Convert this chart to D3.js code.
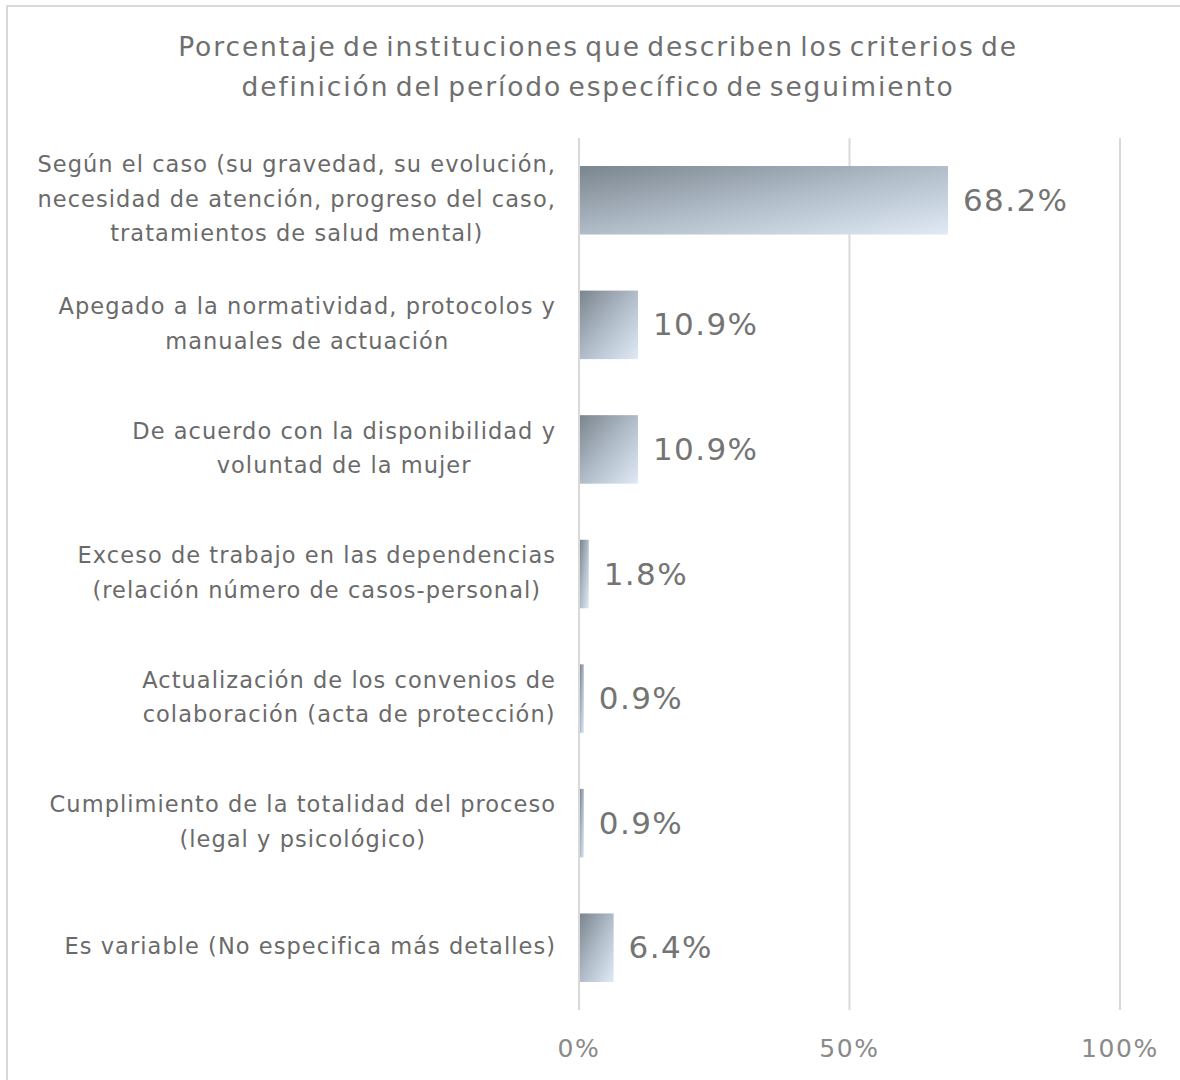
<!DOCTYPE html>
<html>
<head>
<meta charset="utf-8">
<script src="https://cdn.jsdelivr.net/npm/d3@7"></script>
<style>
  body { margin: 0; background: #fff; }
  svg { display: block; }
</style>
</head>
<body>
<svg id="chart"></svg>
<script>
const titleLines = [
  'Porcentaje de instituciones que describen los criterios de',
  'definición del período específico de seguimiento'
];

const categories = [
  ['Según el caso (su gravedad, su evolución,', 'necesidad de atención, progreso del caso,', 'tratamientos de salud mental)'],
  ['Apegado a la normatividad, protocolos y', 'manuales de actuación'],
  ['De acuerdo con la disponibilidad y', 'voluntad de la mujer'],
  ['Exceso de trabajo en las dependencias', '(relación número de casos-personal)'],
  ['Actualización de los convenios de', 'colaboración (acta de protección)'],
  ['Cumplimiento de la totalidad del proceso', '(legal y psicológico)'],
  ['Es variable (No especifica más detalles)']
];

const values = [68.2, 10.9, 10.9, 1.8, 0.9, 0.9, 6.4];

const tickValues = [0, 50, 100];

const width = 1180, height = 1080;
const font = 'DejaVu Sans, sans-serif';

const svg = d3.select('#chart')
              .attr('width', width)
              .attr('height', height);

// frame around the chart (cut off on right and bottom)
svg.append('rect')
    .attr('x', 7)
    .attr('y', 6)
    .attr('width', width + 20)
    .attr('height', height + 20)
    .attr('fill', 'none')
    .attr('stroke', '#d9d9d9')
    .attr('stroke-width', 2);

const grad = svg.append('defs')
                .append('linearGradient')
                .attr('id', 'barGrad')
                .attr('x1', 0).attr('y1', 0)
                .attr('x2', 1).attr('y2', 1);
grad.append('stop').attr('offset', '0%').attr('stop-color', '#7b858f');
grad.append('stop').attr('offset', '50%').attr('stop-color', '#b0bcc8');
grad.append('stop').attr('offset', '100%').attr('stop-color', '#dfeaf6');

const x = d3.scaleLinear()
            .domain([0, 100])
            .range([579, 1120]);

const y = d3.scaleBand()
            .domain(d3.range(categories.length))
            .range([138, 1010])
            .paddingInner(0.45)
            .paddingOuter(0.225);

// title
svg.append('g')
    .selectAll('text')
    .data(titleLines)
    .enter()
    .append('text')
      .attr('x', 598)
      .attr('y', (d, i) => 48 + i * 40)
      .attr('text-anchor', 'middle')
      .attr('dominant-baseline', 'middle')
      .attr('font-family', font)
      .attr('font-size', 26.5)
      .attr('letter-spacing', 1.9)
      .attr('word-spacing', -4)
      .attr('fill', '#6f6f6f')
      .text(d => d);

// gridlines
svg.append('g')
    .selectAll('line')
    .data(tickValues)
    .enter()
    .append('line')
      .attr('x1', d => x(d))
      .attr('x2', d => x(d))
      .attr('y1', 138)
      .attr('y2', 1010)
      .attr('stroke', '#d9d9d9')
      .attr('stroke-width', 2);

// x axis tick labels
svg.append('g')
    .selectAll('text')
    .data(tickValues)
    .enter()
    .append('text')
      .attr('x', d => x(d))
      .attr('y', 1050)
      .attr('text-anchor', 'middle')
      .attr('dominant-baseline', 'middle')
      .attr('font-family', font)
      .attr('font-size', 25)
      .attr('letter-spacing', 1.6)
      .attr('fill', '#8a8a8a')
      .text(d => d + '%');

// bars
svg.append('g')
    .selectAll('rect')
    .data(values)
    .enter()
    .append('rect')
      .attr('x', x(0) + 1)
      .attr('y', (d, i) => y(i))
      .attr('width', d => Math.max(x(d) - x(0) - 1, 2))
      .attr('height', y.bandwidth())
      .attr('fill', 'url(#barGrad)');

// value labels
svg.append('g')
    .selectAll('text')
    .data(values)
    .enter()
    .append('text')
      .attr('x', d => x(d) + 15)
      .attr('y', (d, i) => y(i) + y.bandwidth() / 2 + 2)
      .attr('dominant-baseline', 'middle')
      .attr('font-family', font)
      .attr('font-size', 31)
      .attr('letter-spacing', 1.4)
      .attr('fill', '#747474')
      .text(d => d.toFixed(1) + '%');

// category labels: block right-aligned, lines centered in block
const labelRight = 556;
const lineH = 34.5;
const labels = svg.append('g')
                  .selectAll('g')
                  .data(categories)
                  .enter()
                  .append('g');

labels.each(function(lines, i) {
  const g = d3.select(this);
  const cy = y(i) + y.bandwidth() / 2;
  const texts = g.selectAll('text')
                  .data(lines)
                  .enter()
                  .append('text')
                    .attr('y', (d, j) => cy + (j - (lines.length - 1) / 2) * lineH)
                    .attr('text-anchor', 'middle')
                    .attr('dominant-baseline', 'middle')
                    .attr('font-family', font)
                    .attr('font-size', 22.5)
                    .attr('letter-spacing', 1.05)
                    .attr('fill', '#6a6a6a')
                    .text(d => d);
  let maxW = 0;
  texts.each(function() { maxW = Math.max(maxW, this.getComputedTextLength()); });
  texts.attr('x', labelRight - maxW / 2);
});
</script>
</body>
</html>
